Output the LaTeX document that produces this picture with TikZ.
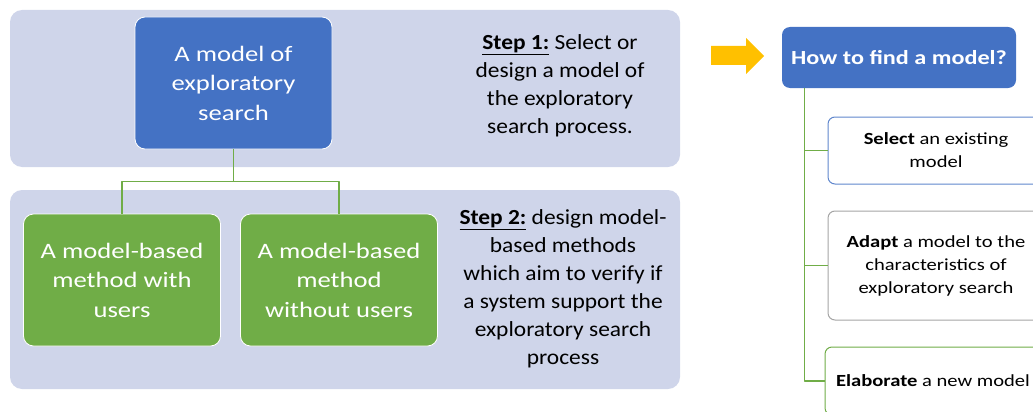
\documentclass[tikz,border=0pt]{standalone}
\usepackage{fontspec}
\setmainfont{Carlito}[FakeStretch=1.21]
\newfontfamily\notefont{Carlito}[FakeStretch=1.09]
\definecolor{panelblue}{HTML}{CFD5EA}
\definecolor{boxblue}{HTML}{4472C4}
\definecolor{boxgreen}{HTML}{70AD47}
\definecolor{arroworange}{HTML}{FFC000}
\definecolor{framegray}{HTML}{A5A5A5}
\begin{document}
\begin{tikzpicture}[x=1pt, y=-1pt, line join=round]
	\tikzset{panel/.style={fill=panelblue, rounded corners=12pt},
		bigbox/.style={draw=white, line width=0.8pt, rounded corners=10pt, text=white, align=center,
			minimum width=197pt, minimum height=132pt, font=\fontsize{22}{29.5}\selectfont},
		stepnote/.style={align=center, font=\notefont\fontsize{21.5}{28}\selectfont},
		link/.style={draw=boxgreen, line width=1.1pt},
		choice/.style={fill=white, line width=1pt, rounded corners=7pt, align=center,
			minimum width=216pt, font=\fontsize{17}{23}\selectfont}}
	\useasboundingbox (0,0) rectangle (1033,412);
	% left part: the two steps
	\fill[panel] (10,10) rectangle (680,167);
	\fill[panel] (10,190) rectangle (680,389);
	\node[bigbox, fill=boxblue] (model) at (233.5,83) {A model of\\exploratory\\search};
	\node[bigbox, fill=boxgreen] (withusers) at (122,280) {A model-based\\method with\\users};
	\node[bigbox, fill=boxgreen] (withoutusers) at (339,280) {A model-based\\method\\without users};
	\draw[link] (model.south) -- ++(0,32) -| (withusers.north);
	\draw[link] (model.south) -- ++(0,32) -| (withoutusers.north);
	\node[stepnote] (step1) at (560,86) {\underline{\textbf{Step 1:}} Select or\\design a model of\\the exploratory\\search process.};
	\node[stepnote] (step2) at (563,289) {\underline{\textbf{Step 2:}} design model-\\based methods\\which aim to verify if\\a system support the\\exploratory search\\process};
	% right part: how to find the model
	\fill[arroworange] (711,46) -- (746,46) -- (746,38) -- (764,56) -- (746,74) -- (746,65) -- (711,65) -- cycle;
	\node[fill=boxblue, rounded corners=8pt, text=white, minimum width=234pt, minimum height=61pt,
		font=\fontsize{20}{24}\selectfont\bfseries] (howto) at (899,57.5) {How to find a model?};
	\node[choice, draw=boxblue!85!white, minimum height=67pt] (select) at (936,150.5) {\textbf{Select} an existing\\model};
	\node[choice, draw=framegray, minimum height=109pt] (adapt) at (936,265.5) {\textbf{Adapt} a model to the\\characteristics of\\exploratory search};
	\node[choice, draw=boxgreen, minimum height=68pt] (elaborate) at (933,381) {\textbf{Elaborate} a new model};
	\draw[link] (howto.south west) ++(23,0) |- (select.west);
	\draw[link] (howto.south west) ++(23,0) |- (adapt.west);
	\draw[link] (howto.south west) ++(23,0) |- (elaborate.west);
\end{tikzpicture}
\end{document}
